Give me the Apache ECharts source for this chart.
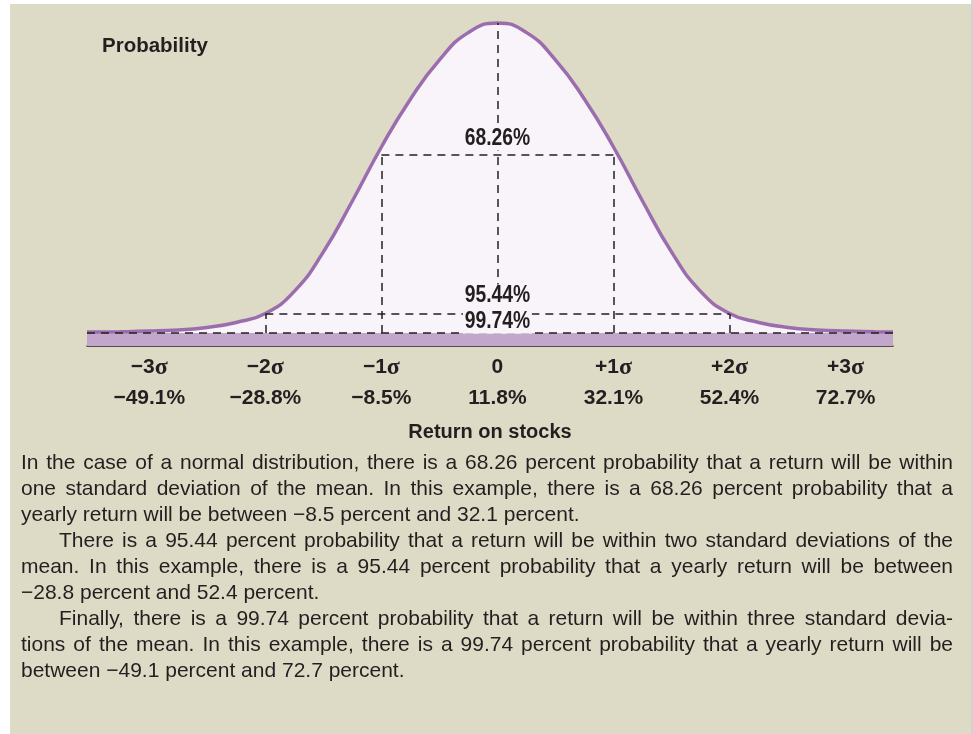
<!DOCTYPE html>
<html>
<head>
<meta charset="utf-8">
<script src="https://cdn.jsdelivr.net/npm/echarts@6/dist/echarts.min.js"></script>
<style>
  html, body { margin: 0; padding: 0; background: #ffffff; }
  #wrap { position: relative; width: 973px; height: 734px; overflow: hidden; }
  #panel { position: absolute; left: 10px; top: 4px; width: 961px; height: 730px; background: #dddbc5; }
  #edge { position: absolute; left: 971px; top: 0; width: 2px; height: 734px; background: #d2d2d2; }
  #chart { position: absolute; left: 0; top: 0; width: 973px; height: 734px; }
</style>
</head>
<body>
<div id="wrap">
  <div id="panel"></div>
  <div id="edge"></div>
  <div id="chart"></div>
</div>
<script>
// Standard-deviation marks on the return axis
const sigmaLabels = ['−3σ', '−2σ', '−1σ', '0', '+1σ', '+2σ', '+3σ'];
const sigmaReturns = [-49.1, -28.8, -8.5, 11.8, 32.1, 52.4, 72.7];
const returnLabels = ['−49.1%', '−28.8%', '−8.5%', '11.8%', '32.1%', '52.4%', '72.7%'];

// Bell curve outline: yearly return (%) and relative probability
const curveX = [-60.0, -54.2, -49.1, -44.0, -39.0, -33.9, -28.8, -23.7, -18.7, -13.6, -8.5, -3.4, 1.7, 6.7,
                11.8, 16.9, 21.9, 27.0, 32.1, 37.2, 42.3, 47.3, 52.4, 57.5, 62.6, 67.6, 72.7, 77.8, 81.0];
const curveY = [0.003, 0.004, 0.006, 0.010, 0.018, 0.034, 0.063, 0.135, 0.260, 0.425, 0.600, 0.755, 0.882, 0.969,
                1.000, 0.969, 0.882, 0.755, 0.600, 0.425, 0.260, 0.135, 0.063, 0.034, 0.018, 0.010, 0.006, 0.004, 0.003];

// Probability ranges and the height of their dashed brackets
const rangeLabels = ['68.26%', '95.44%', '99.74%'];
const bracketLevels = [0.574, 0.061, 0];

// Explanatory text, one entry per printed line
const paragraphs = [
  ['In the case of a normal distribution, there is a 68.26 percent probability that a return will be within',
   'one standard deviation of the mean. In this example, there is a 68.26 percent probability that a',
   'yearly return will be between −8.5 percent and 32.1 percent.'],
  ['There is a 95.44 percent probability that a return will be within two standard deviations of the',
   'mean. In this example, there is a 95.44 percent probability that a yearly return will be between',
   '−28.8 percent and 52.4 percent.'],
  ['Finally, there is a 99.74 percent probability that a return will be within three standard devia-',
   'tions of the mean. In this example, there is a 99.74 percent probability that a yearly return will be',
   'between −49.1 percent and 72.7 percent.']
];

const FONT = "'Liberation Sans', Arial, sans-serif";
const INK = '#231f20';
const FILL = '#f8f4f9';
const xMin = -60, xMax = 81, yMin = -0.042, yMax = 1.0;

// Justified body text: each word placed so that full lines span the column
function bodyText() {
  const size = 21, left = 21, right = 953, top = 463, step = 26, indent = 38;
  const ctx = document.createElement('canvas').getContext('2d');
  ctx.font = size + 'px ' + FONT;
  const space = ctx.measureText(' ').width;
  const out = [];
  let row = 0;
  paragraphs.forEach((lines, p) => {
    lines.forEach((line, i) => {
      const y = top + row * step;
      const x0 = left + (p > 0 && i === 0 ? indent : 0);
      const words = line.split(' ');
      const widths = words.map(w => ctx.measureText(w).width);
      const total = widths.reduce((a, b) => a + b, 0);
      const isLast = i === lines.length - 1;
      const gap = isLast ? space : Math.max(3, (right - x0 - total) / (words.length - 1));
      let x = x0;
      words.forEach((w, k) => {
        out.push({
          type: 'text', x: x, y: y, silent: true, z: 100,
          style: { text: w, fill: INK, fontSize: size, fontFamily: FONT, verticalAlign: 'middle', align: 'left' }
        });
        x += widths[k] + gap;
      });
      row++;
    });
  });
  return out;
}

function labelFor(v) {
  const i = sigmaReturns.findIndex(s => Math.abs(s - v) < 0.01);
  if (i < 0) return '';
  const s = sigmaLabels[i];
  const top = s.endsWith('σ') ? '{s|' + s.slice(0, -1) + '}{g|σ}' : '{s|' + s + '}';
  return top + '\n{p|' + returnLabels[i] + '}';
}

// Dashed brackets: baseline, mean, ±1σ and ±2σ ranges
const lo1 = sigmaReturns[2], hi1 = sigmaReturns[4], lo2 = sigmaReturns[1], hi2 = sigmaReturns[5], mean = sigmaReturns[3];
const peak = Math.max(...curveY);
const dashed = [
  [{ coord: [xMin, bracketLevels[2]] }, { coord: [xMax, bracketLevels[2]] }],
  [{ coord: [mean, 0] }, { coord: [mean, peak] }],
  [{ coord: [lo1, bracketLevels[0]] }, { coord: [hi1, bracketLevels[0]] }],
  [{ coord: [lo1, 0] }, { coord: [lo1, bracketLevels[0]] }],
  [{ coord: [hi1, 0] }, { coord: [hi1, bracketLevels[0]] }],
  [{ coord: [lo2, bracketLevels[1]] }, { coord: [hi2, bracketLevels[1]] }],
  [{ coord: [lo2, 0] }, { coord: [lo2, bracketLevels[1]] }],
  [{ coord: [hi2, 0] }, { coord: [hi2, bracketLevels[1]] }]
];

// Range labels sit just above their bracket lines
const labelOffsets = [0.052, 0.058, 0.035];

const chart = echarts.init(document.getElementById('chart'), null, { renderer: 'canvas' });
chart.setOption({
  animation: false,
  backgroundColor: 'transparent',
  grid: { left: 87, right: 80, top: 23, bottom: 388, containLabel: false, outerBoundsMode: 'none' },
  xAxis: {
    type: 'value', min: xMin, max: xMax,
    name: 'Return on stocks', nameLocation: 'middle', nameGap: 76,
    nameTextStyle: { color: INK, fontSize: 20, fontWeight: 'bold', fontFamily: FONT },
    splitLine: { show: false },
    axisLine: { show: true, onZero: false, lineStyle: { color: INK, width: 1.5 } },
    axisTick: { show: true, inside: true, length: 12, customValues: sigmaReturns, lineStyle: { color: INK, width: 1.5 } },
    axisLabel: {
      show: true, customValues: sigmaReturns, margin: 6, formatter: labelFor,
      rich: {
        s: { color: INK, fontSize: 21, fontWeight: 'bold', fontFamily: FONT, lineHeight: 31 },
        g: { color: INK, fontSize: 24, fontWeight: 'bold', fontFamily: "'Liberation Serif', serif", lineHeight: 31 },
        p: { color: INK, fontSize: 21, fontWeight: 'bold', fontFamily: FONT, lineHeight: 31 }
      }
    }
  },
  yAxis: { type: 'value', min: yMin, max: yMax, show: false, splitLine: { show: false } },
  series: [
    {
      type: 'line',
      data: curveX.map((x, i) => [x, curveY[i]]),
      smooth: 0.5,
      showSymbol: false, symbol: 'none', clip: false,
      lineStyle: { color: '#9b6dae', width: 3.5 },
      areaStyle: { color: FILL, opacity: 1 },
      markArea: { silent: true, itemStyle: { color: '#c2a6cc' }, data: [[{ yAxis: yMin }, { yAxis: 0 }]] },
      markLine: {
        silent: true, symbol: ['none', 'none'], label: { show: false },
        lineStyle: { color: INK, type: [8, 6], width: 1.5 },
        emphasis: { disabled: true },
        data: dashed
      },
      z: 2
    }
  ]
});

// Range labels placed through the chart's own scales, over the dashed lines
const rangeText = rangeLabels.map((t, i) => {
  const pt = chart.convertToPixel({ gridIndex: 0 }, [mean, bracketLevels[i] + labelOffsets[i]]);
  return {
    type: 'text', x: pt[0], y: pt[1], silent: true, z: 100, scaleX: 0.84,
    style: {
      text: t, fill: INK, fontSize: 23, fontWeight: 'bold', fontFamily: FONT,
      align: 'center', verticalAlign: 'middle', backgroundColor: FILL, padding: [0, 2]
    }
  };
});

chart.setOption({
  graphic: [
    { type: 'text', x: 102, y: 46, silent: true, z: 100,
      style: { text: 'Probability', fill: INK, fontSize: 20.5, fontWeight: 'bold', fontFamily: FONT, verticalAlign: 'middle' } }
  ].concat(rangeText, bodyText())
});
</script>
</body>
</html>
